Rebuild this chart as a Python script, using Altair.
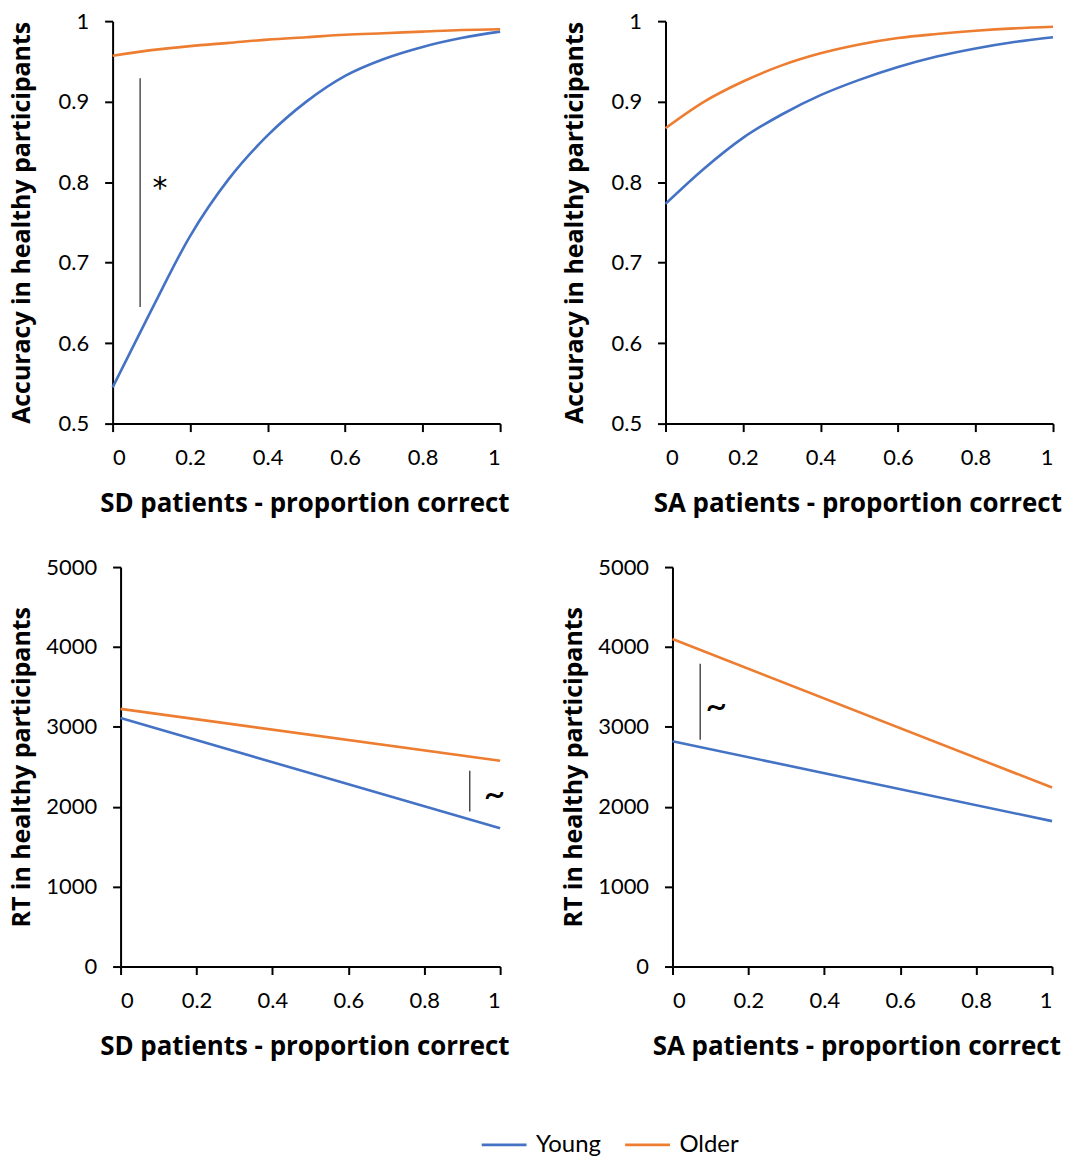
import altair as alt
import pandas as pd

# ---------------- data ----------------
GROUPS = ["Young", "Older"]
COLORS = ["#4472C4", "#ED7D31"]

X_CURVE = [0.0, 0.1, 0.2, 0.3, 0.4, 0.5, 0.6, 0.7, 0.8, 0.9, 1.0]
SD_ACC_YOUNG = [0.545, 0.641, 0.733, 0.804, 0.858, 0.900, 0.932, 0.953, 0.968, 0.979, 0.987]
SD_ACC_OLDER = [0.957, 0.964, 0.969, 0.973, 0.977, 0.980, 0.983, 0.985, 0.987, 0.989, 0.990]
SA_ACC_YOUNG = [0.773, 0.817, 0.855, 0.884, 0.908, 0.927, 0.943, 0.956, 0.966, 0.974, 0.980]
SA_ACC_OLDER = [0.867, 0.900, 0.925, 0.945, 0.960, 0.971, 0.979, 0.984, 0.988, 0.991, 0.993]

X_LINE = [0.0, 1.0]
SD_RT_YOUNG = [3110, 1730]
SD_RT_OLDER = [3225, 2575]
SA_RT_YOUNG = [2820, 1820]
SA_RT_OLDER = [4100, 2240]

X_TICKS = [0, 0.2, 0.4, 0.6, 0.8, 1]
ACC_TICKS = [0.5, 0.6, 0.7, 0.8, 0.9, 1.0]
RT_TICKS = [0, 1000, 2000, 3000, 4000, 5000]

# significance markers: [x, y_low, y_high, text_x, text_y, symbol]
SD_ACC_MARK = [0.071, 0.645, 0.929, 0.122, 0.792, "*"]
SD_RT_MARK = [0.92, 1940, 2450, 0.985, 2130, "~"]
SA_RT_MARK = [0.073, 2840, 3790, 0.115, 3240, "~"]

ACC_TITLE = "Accuracy in healthy participants"
RT_TITLE = "RT in healthy participants"
SD_TITLE = "SD patients - proportion correct"
SA_TITLE = "SA patients - proportion correct"

LABEL_FONT = "Lato"
TITLE_FONT = "Open Sans"


def x_enc(field, title, xrange):
    return alt.X(
        field,
        type="quantitative",
        scale=alt.Scale(domain=[0, 1], nice=False, zero=False, range=xrange),
        axis=alt.Axis(
            values=X_TICKS,
            labelExpr="datum.value == 0 ? '0' : datum.value == 1 ? '1' : format(datum.value, '.1f')",
            title=title,
            labelPadding=16,
            titlePadding=22,
            titleFontSize=26,
            titleX=192.5,
        ),
    )


def y_enc(field, title, domain, ticks, acc):
    if acc:
        expr = "datum.value == 1 ? '1' : format(datum.value, '.1f')"
        ext = 78
        off = 0
    else:
        expr = "format(datum.value, 'd')"
        ext = 86
        off = -8
    return alt.Y(
        field,
        type="quantitative",
        scale=alt.Scale(domain=domain, nice=False, zero=False),
        axis=alt.Axis(values=ticks, labelExpr=expr, title=title, labelPadding=16,
                      titlePadding=0, minExtent=ext, maxExtent=ext, offset=off,
                      titleFontSize=25),
    )


def panel(xs, young, older, ytitle, xtitle, domain, ticks, acc, h, mark=None):
    xrange = [0, 389] if acc else [8, 389]
    n = len(xs)
    df = pd.DataFrame({
        "x": list(xs) * 2,
        "y": list(young) + list(older),
        "group": ["Young"] * n + ["Older"] * n,
    })
    lines = alt.Chart(df).mark_line(strokeWidth=2.6, interpolate="monotone").encode(
        x=x_enc("x", xtitle, xrange),
        y=y_enc("y", ytitle, domain, ticks, acc),
        color=alt.Color(
            "group:N",
            scale=alt.Scale(domain=GROUPS, range=COLORS),
            legend=alt.Legend(
                title=None,
                orient="none",
                direction="horizontal",
                legendX=369,
                legendY=1116,
                symbolType="stroke",
                symbolSize=2025,
                symbolStrokeWidth=2.6,
                clipHeight=24,
                labelFontSize=24,
                labelFont=LABEL_FONT,
                labelColor="black",
                labelOffset=8,
                columnPadding=22,
            ),
        ),
    )
    layers = [lines]
    if mark is not None:
        mdf = pd.DataFrame({"x": [mark[0]], "y": [mark[1]], "y2": [mark[2]],
                            "tx": [mark[3]], "ty": [mark[4]], "s": [mark[5]]})
        rule = alt.Chart(mdf).mark_rule(color="#333333", strokeWidth=1.3).encode(
            x=x_enc("x", xtitle, xrange),
            y=y_enc("y", ytitle, domain, ticks, acc),
            y2="y2:Q",
        )
        if mark[5] == "*":
            tmark = alt.Chart(mdf).mark_text(fontSize=30, font="DejaVu Sans", color="black")
        else:
            tmark = alt.Chart(mdf).mark_text(fontSize=38, font=LABEL_FONT, color="black")
        txt = tmark.encode(
            x=x_enc("tx", xtitle, xrange),
            y=y_enc("ty", ytitle, domain, ticks, acc),
            text="s:N",
        )
        layers += [rule, txt]
    return alt.layer(*layers).properties(width=389, height=h)


TL = panel(X_CURVE, SD_ACC_YOUNG, SD_ACC_OLDER, ACC_TITLE, SD_TITLE, [0.5, 1.0], ACC_TICKS, True, 404, SD_ACC_MARK)
TR = panel(X_CURVE, SA_ACC_YOUNG, SA_ACC_OLDER, ACC_TITLE, SA_TITLE, [0.5, 1.0], ACC_TICKS, True, 404)
BL = panel(X_LINE, SD_RT_YOUNG, SD_RT_OLDER, RT_TITLE, SD_TITLE, [0, 5000], RT_TICKS, False, 401, SD_RT_MARK)
BR = panel(X_LINE, SA_RT_YOUNG, SA_RT_OLDER, RT_TITLE, SA_TITLE, [0, 5000], RT_TICKS, False, 401, SA_RT_MARK)

top = alt.hconcat(TL, TR, spacing=53)
bottom = alt.hconcat(BL, BR, spacing=52)

chart = alt.vconcat(top, bottom, spacing=40).properties(
    padding={"left": 2, "top": 0, "right": 0, "bottom": 0}
).configure_view(stroke=None).configure_axis(
    grid=False,
    domainColor="black",
    domainWidth=2,
    tickColor="black",
    tickWidth=2,
    tickSize=8,
    labelFont=LABEL_FONT,
    labelFontSize=22,
    labelColor="black",
    titleFont=TITLE_FONT,
    titleFontWeight="bold",
    titleColor="black",
).configure_legend(labelFont=LABEL_FONT)

chart.save("out.html", embed_options={"renderer": "svg", "actions": False})
